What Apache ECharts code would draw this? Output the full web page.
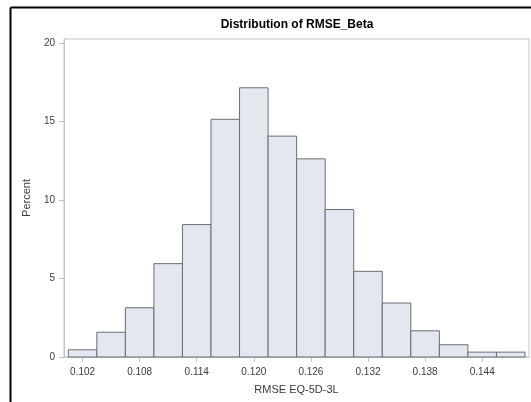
<!DOCTYPE html>
<html>
<head>
<meta charset="utf-8">
<script src="https://cdn.jsdelivr.net/npm/echarts@6/dist/echarts.min.js"></script>
<style>
  html, body { margin: 0; padding: 0; background: #ffffff; }
  #chart { width: 531px; height: 402px; }
</style>
</head>
<body>
<div id="chart"></div>
<script>
// Histogram bins: midpoints of RMSE values (bin width 0.003) and percent per bin
const binMidpoints = [0.102, 0.105, 0.108, 0.111, 0.114, 0.117, 0.120, 0.123,
                      0.126, 0.129, 0.132, 0.135, 0.138, 0.141, 0.144, 0.147];
const binPercent = [0.46, 1.58, 3.14, 5.95, 8.44, 15.15, 17.16, 14.08,
                    12.63, 9.40, 5.46, 3.44, 1.67, 0.78, 0.31, 0.31];
const binWidth = 0.003;

// Axis tick labels
const xTickValues = [0.102, 0.108, 0.114, 0.120, 0.126, 0.132, 0.138, 0.144];
const yTickValues = [0, 5, 10, 15, 20];

const titleText = 'Distribution of RMSE_Beta';
const xAxisTitle = 'RMSE EQ-5D-3L';
const yAxisTitle = 'Percent';

const FONT = '"Liberation Sans", Arial, sans-serif';

const chart = echarts.init(document.getElementById('chart'), null, { renderer: 'canvas' });

const histData = binMidpoints.map((m, i) => [m - binWidth / 2, m + binWidth / 2, binPercent[i]]);

chart.setOption({
  animation: false,
  backgroundColor: '#ffffff',
  grid: {
    left: 64, right: 2, top: 39, bottom: 45,
    show: true, borderColor: '#c4c4c4', borderWidth: 1, backgroundColor: 'transparent'
  },
  graphic: [
    { type: 'line', shape: { x1: 10.5, y1: 7.5, x2: 531, y2: 7.5 }, style: { stroke: '#000', lineWidth: 2 } },
    { type: 'line', shape: { x1: 10.5, y1: 7.5, x2: 10.5, y2: 402 }, style: { stroke: '#000', lineWidth: 2 } },
    {
      type: 'text', x: 297, y: 25,
      style: { text: titleText, font: 'bold 12px ' + FONT, fill: '#000', textAlign: 'center', textVerticalAlign: 'middle' }
    }
  ],
  xAxis: {
    type: 'value',
    min: 0.10005, max: 0.14892,
    splitLine: { show: false },
    axisLine: { show: true, lineStyle: { color: '#c4c4c4', width: 1 } },
    axisTick: { show: true, length: 5, customValues: xTickValues, lineStyle: { color: '#c4c4c4' } },
    axisLabel: {
      customValues: xTickValues, margin: 10,
      formatter: v => v.toFixed(3),
      color: '#3a3a3a', fontSize: 10, fontFamily: FONT
    },
    name: xAxisTitle, nameLocation: 'middle', nameGap: 27,
    nameTextStyle: { color: '#3a3a3a', fontSize: 11, fontFamily: FONT }
  },
  yAxis: {
    type: 'value',
    min: 0, max: 20.27,
    splitLine: { show: false },
    axisLine: { show: true, lineStyle: { color: '#c4c4c4', width: 1 } },
    axisTick: { show: true, length: 5, customValues: yTickValues, lineStyle: { color: '#c4c4c4' } },
    axisLabel: {
      customValues: yTickValues, margin: 9,
      color: '#3a3a3a', fontSize: 10, fontFamily: FONT
    },
    name: yAxisTitle, nameLocation: 'middle', nameGap: 32,
    nameTextStyle: { color: '#3a3a3a', fontSize: 11, fontFamily: FONT }
  },
  series: [{
    type: 'custom',
    data: histData,
    renderItem: function (params, api) {
      const p0 = api.coord([api.value(0), api.value(2)]);
      const p1 = api.coord([api.value(1), 0]);
      return {
        type: 'rect',
        shape: { x: p0[0], y: p0[1], width: p1[0] - p0[0], height: p1[1] - p0[1] },
        style: { fill: '#e3e7f0', stroke: '#6a6e74', lineWidth: 1 }
      };
    },
    encode: { x: [0, 1], y: 2 }
  }]
});
</script>
</body>
</html>
